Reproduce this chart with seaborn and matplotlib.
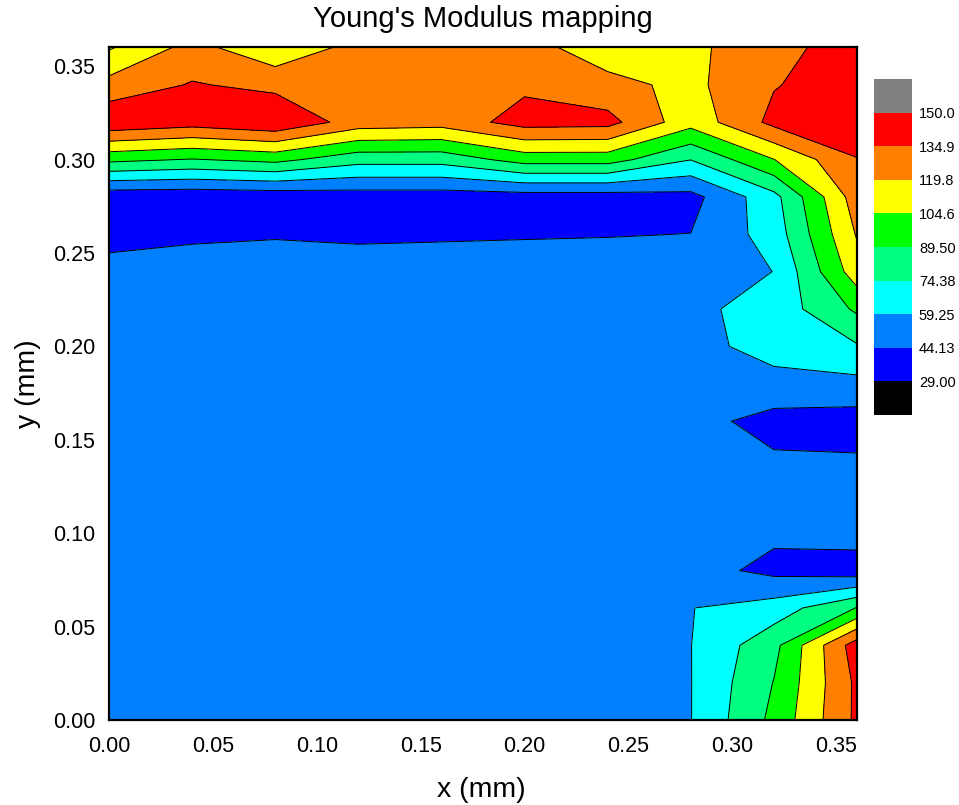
import numpy as np
import matplotlib
matplotlib.use("Agg")
import matplotlib.pyplot as plt
from matplotlib.colors import ListedColormap, BoundaryNorm
from matplotlib.ticker import MultipleLocator, FormatStrFormatter
import seaborn as sns

# ---------------- data ----------------
x_mm = [0.00, 0.04, 0.08, 0.12, 0.16, 0.20, 0.24, 0.28, 0.32, 0.36]
y_mm = [0.00, 0.02, 0.04, 0.06, 0.08, 0.10, 0.12, 0.14, 0.16, 0.18,
        0.20, 0.22, 0.24, 0.26, 0.28, 0.30, 0.32, 0.34, 0.36]

# Young's modulus along each x column (bottom -> top)
E_x000 = [50, 50, 51, 51, 50, 50, 49, 50, 51, 50, 50, 49, 48, 40.3, 33, 93.4, 147, 125, 103]
E_x004 = [50, 51, 51, 50, 50, 51, 50, 50, 50, 51, 50, 50, 50, 42, 32.6, 88.6, 141.6, 136, 125]
E_x008 = [51, 50, 50, 50, 51, 50, 50, 51, 50, 50, 51, 50, 51, 43, 33.9, 93.9, 148, 131, 108]
E_x012 = [50, 50, 50, 50, 50, 50, 50, 50, 50, 50, 50, 50, 50, 42, 36, 80, 128, 126, 125]
E_x016 = [50, 50, 50, 50, 50, 50, 50, 50, 50, 50, 50, 50, 50.5, 42.5, 36, 80, 126, 128, 128]
E_x020 = [50, 50, 50, 50, 50, 50, 50, 50, 50, 50, 50, 50, 51, 43, 37, 96, 141, 132, 125]
E_x024 = [50, 50, 50, 50, 50, 50, 50, 50, 50, 50, 50, 50, 51, 43.5, 37, 96, 140, 124, 112]
E_x028 = [58.9, 58.9, 59.0, 58.9, 50, 50, 50, 50, 50, 50, 56, 56, 48, 44.3, 39.1, 74.7, 110.3, 116, 117]
E_x032 = [93.4, 90, 85, 66, 40, 47, 50, 46, 38, 56, 63, 65, 59.5, 66, 69.5, 104.3, 139, 134, 128]
E_x036 = [138, 138, 143, 90, 35, 51.6, 50, 45.3, 37.3, 55, 73, 92, 113, 121, 127.8, 134.5, 141, 143, 145]

levels = [29.0, 44.125, 59.25, 74.375, 89.5, 104.625, 119.75, 134.875, 150.0]
level_labels = ["29.00", "44.13", "59.25", "74.38", "89.50", "104.6", "119.8", "134.9", "150.0"]
band_colors = ["#0000FF", "#0080FF", "#00FFFF", "#00FF80",
               "#00FF00", "#FFFF00", "#FF8000", "#FF0000"]
under_color = "#000000"
over_color = "#808080"

# ---------------- style ----------------
sns.set_theme(style="ticks")
plt.rcParams["font.family"] = ["Liberation Sans", "DejaVu Sans"]
plt.rcParams["text.color"] = "black"
plt.rcParams["axes.labelcolor"] = "black"
plt.rcParams["xtick.color"] = "black"
plt.rcParams["ytick.color"] = "black"

Z = np.column_stack([E_x000, E_x004, E_x008, E_x012, E_x016,
                     E_x020, E_x024, E_x028, E_x032, E_x036])
X, Y = np.meshgrid(np.array(x_mm), np.array(y_mm))

cmap = ListedColormap(band_colors)
cmap.set_under(under_color)
cmap.set_over(over_color)
norm = BoundaryNorm(levels, cmap.N)

fig = plt.figure(figsize=(9.59, 8.05), dpi=100)
ax = fig.add_axes([109 / 959, 85 / 805, 748 / 959, 672.5 / 805])

cs = ax.contourf(X, Y, Z, levels=levels, cmap=cmap, norm=norm, extend="both")
ax.contour(X, Y, Z, levels=levels, colors="black", linewidths=0.7)

ax.set_xlim(0, 0.36)
ax.set_ylim(0, 0.36)
ax.xaxis.set_major_locator(MultipleLocator(0.05))
ax.xaxis.set_minor_locator(MultipleLocator(0.025))
ax.yaxis.set_major_locator(MultipleLocator(0.05))
ax.yaxis.set_minor_locator(MultipleLocator(0.025))
ax.xaxis.set_major_formatter(FormatStrFormatter("%.2f"))
ax.yaxis.set_major_formatter(FormatStrFormatter("%.2f"))
ax.tick_params(which="both", direction="in", top=True, right=True,
               bottom=True, left=True, color="black", labelcolor="black", width=1.3)
ax.tick_params(which="major", length=7.5, labelsize=15.5)
ax.tick_params(axis="x", which="major", pad=11.5)
ax.tick_params(axis="y", which="major", pad=10)
ax.tick_params(which="minor", length=4)
for sp in ax.spines.values():
    sp.set_linewidth(1.6)
    sp.set_color("black")
    sp.set_zorder(5)

fig.text(483 / 959, 1 - 27 / 805, "Young's Modulus mapping", ha="center",
         va="baseline", fontsize=21, color="black")
fig.text(481 / 959, 1 - 790 / 805, "x (mm)", ha="center", va="center",
         fontsize=20.5, color="black")
fig.text(28 / 959, 1 - 384 / 805, "y (mm)", ha="center", va="center",
         rotation=90, fontsize=20.5, color="black")

# colour scale
cax = fig.add_axes([874 / 959, (805 - 415) / 805, 38 / 959, 336 / 805])
cb = fig.colorbar(cs, cax=cax, extend="both", extendrect=True, extendfrac="auto",
                  drawedges=False)
cb.outline.set_visible(False)
cb.set_ticks(levels)
cb.set_ticklabels(level_labels)
cax.tick_params(length=0, labelsize=10.5, pad=5, labelcolor="black")

fig.savefig("out.png", dpi=100)
